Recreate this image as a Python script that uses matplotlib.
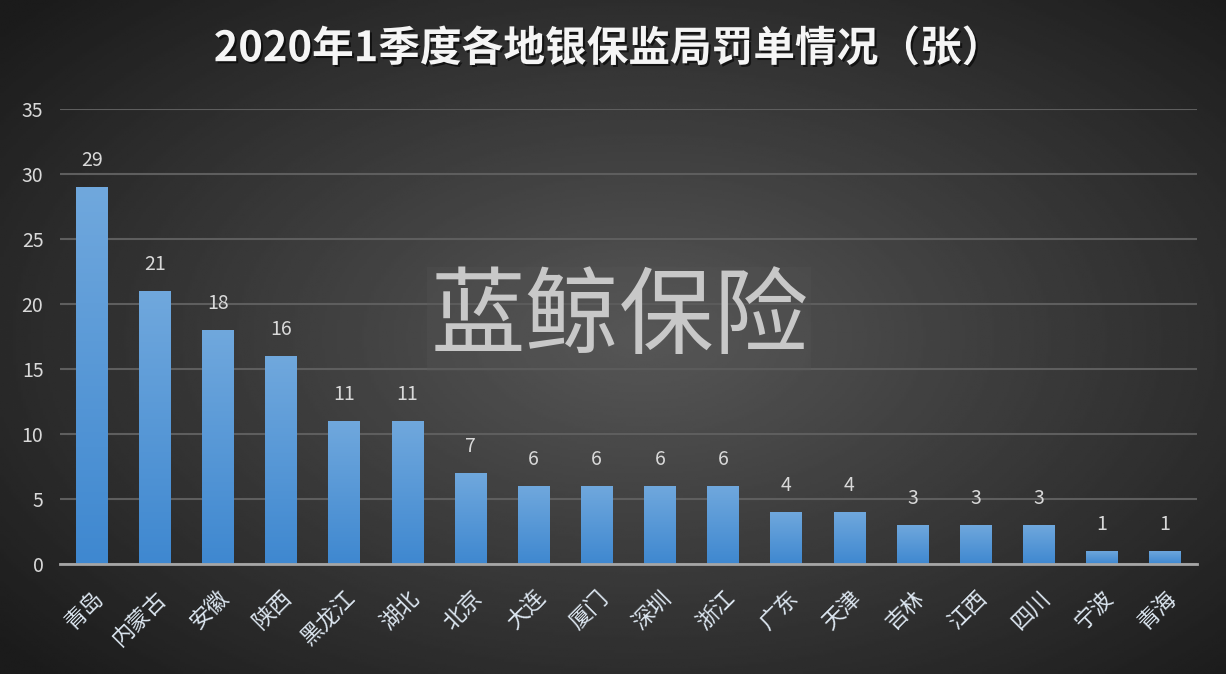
import numpy as np
import matplotlib
matplotlib.use('Agg')
import matplotlib.pyplot as plt
import matplotlib.patheffects as pe

plt.rcParams['font.family'] = ['Noto Sans CJK SC', 'DejaVu Sans']

# Datos
regiones = ['青岛', '内蒙古', '安徽', '陕西', '黑龙江', '湖北', '北京', '大连', '厦门',
            '深圳', '浙江', '广东', '天津', '吉林', '江西', '四川', '宁波', '青海']
罚单 = [29, 21, 18, 16, 11, 11, 7, 6, 6, 6, 6, 4, 4, 3, 3, 3, 1, 1]
titulo = '2020年1季度各地银保监局罚单情况（张）'
yticks = [0, 5, 10, 15, 20, 25, 30, 35]

fig = plt.figure(figsize=(12.26, 6.74), dpi=100)

# Fondo con degradado radial
bg = fig.add_axes([0, 0, 1, 1], zorder=0)
yy, xx = np.mgrid[-1:1:300j, -1:1:500j]
r = np.sqrt(((xx - 0.05) * 0.95) ** 2 + (yy * 0.9) ** 2)
bg.imshow(0.34 - 0.18 * np.clip(r, 0, 1.3), cmap='gray', vmin=0, vmax=1,
          aspect='auto', extent=[0, 1, 0, 1])
bg.axis('off')

ax = fig.add_axes([0.049, 0.163, 0.927, 0.676], zorder=1)
ax.patch.set_alpha(0)
x = np.arange(len(regiones))
bars = ax.bar(x, 罚单, width=0.5, color='#5b9bd5', zorder=3)

# Degradado en las barras
grad = np.linspace(0, 1, 100).reshape(-1, 1)
cmap = matplotlib.colors.LinearSegmentedColormap.from_list('b', ['#3f88d0', '#70a8dd'])
for b in bars:
    bx, by, bw, bh = b.get_x(), b.get_y(), b.get_width(), b.get_height()
    im = ax.imshow(grad, cmap=cmap, extent=[bx, bx + bw, by, by + bh],
                   origin='lower', aspect='auto', zorder=3.5)
    im.set_clip_path(b)

for xi, v in zip(x, 罚单):
    ax.text(xi, v + 1.2, str(v), ha='center', va='bottom', fontsize=14,
            color='#d9d9d9', zorder=4)

ax.set_xlim(-0.5, len(regiones) - 0.5)
ax.set_ylim(0, 35)
ax.set_yticks(yticks)
ax.set_yticklabels([str(t) for t in yticks], fontsize=14, color='#d9d9d9')
ax.set_xticks(x)
ax.set_xticklabels(regiones, rotation=45, ha='right', rotation_mode='anchor',
                   fontsize=16, color='#dce6f0')
ax.tick_params(length=0, pad=12)
ax.tick_params(axis='x', pad=16)
ax.grid(axis='y', color='#5e5e5e', lw=1.5, zorder=0)
ax.set_axisbelow(True)
for s in ['top', 'right', 'left']:
    ax.spines[s].set_visible(False)
ax.spines['bottom'].set_color('#a6a6a6')
ax.spines['bottom'].set_linewidth(2)
ax.spines['bottom'].set_zorder(5)

# Marca de agua
fig.text(0.505, 0.527, '蓝鲸保险', ha='center', va='center', fontsize=68,
         color='#c8c8c8', zorder=6,
         bbox=dict(facecolor='#555555', edgecolor='none', pad=2, alpha=0.3))

fig.text(0.496, 0.927, titulo, ha='center', va='center', fontsize=30,
         fontweight='bold', color='#f5f5f5', zorder=6,
         path_effects=[pe.withSimplePatchShadow(offset=(1.5, -1.5),
                                                shadow_rgbFace='black', alpha=0.6)])

plt.savefig('out.png', dpi=100)
